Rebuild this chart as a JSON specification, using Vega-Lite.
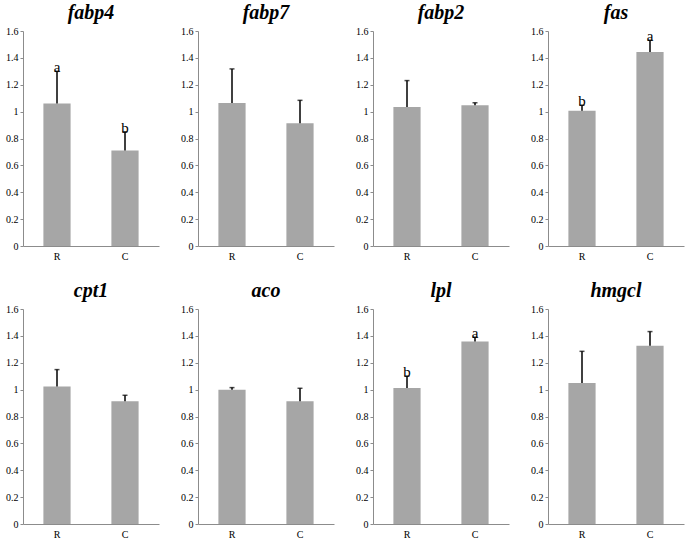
{
  "$schema": "https://vega.github.io/schema/vega-lite/v6.json",
  "padding": {"left": 5, "top": 3, "right": 5, "bottom": 2},
  "data": {
    "values": [
      {"gene": "fabp4", "group": "R", "mean": 1.06, "upper": 1.30, "letter": "a"},
      {"gene": "fabp4", "group": "C", "mean": 0.71, "upper": 0.85, "letter": "b"},
      {"gene": "fabp7", "group": "R", "mean": 1.064, "upper": 1.318, "letter": ""},
      {"gene": "fabp7", "group": "C", "mean": 0.914, "upper": 1.084, "letter": ""},
      {"gene": "fabp2", "group": "R", "mean": 1.034, "upper": 1.231, "letter": ""},
      {"gene": "fabp2", "group": "C", "mean": 1.048, "upper": 1.066, "letter": ""},
      {"gene": "fas", "group": "R", "mean": 1.006, "upper": 1.048, "letter": "b"},
      {"gene": "fas", "group": "C", "mean": 1.444, "upper": 1.531, "letter": "a"},
      {"gene": "cpt1", "group": "R", "mean": 1.023, "upper": 1.149, "letter": ""},
      {"gene": "cpt1", "group": "C", "mean": 0.914, "upper": 0.958, "letter": ""},
      {"gene": "aco", "group": "R", "mean": 1.0, "upper": 1.015, "letter": ""},
      {"gene": "aco", "group": "C", "mean": 0.914, "upper": 1.01, "letter": ""},
      {"gene": "lpl", "group": "R", "mean": 1.012, "upper": 1.101, "letter": "b"},
      {"gene": "lpl", "group": "C", "mean": 1.358, "upper": 1.39, "letter": "a"},
      {"gene": "hmgcl", "group": "R", "mean": 1.05, "upper": 1.285, "letter": ""},
      {"gene": "hmgcl", "group": "C", "mean": 1.326, "upper": 1.432, "letter": ""}
    ]
  },
  "facet": {
    "field": "gene",
    "type": "nominal",
    "sort": ["fabp4", "fabp7", "fabp2", "fas", "cpt1", "aco", "lpl", "hmgcl"],
    "header": {
      "title": null,
      "labelFont": "Times New Roman, DejaVu Serif",
      "labelFontSize": 20,
      "labelFontStyle": "italic",
      "labelFontWeight": "bold",
      "labelColor": "black",
      "labelPadding": 3
    }
  },
  "columns": 4,
  "spacing": {"column": 21, "row": 20},
  "resolve": {"axis": {"x": "independent", "y": "independent"}},
  "spec": {
    "width": 136,
    "height": 215,
    "encoding": {
      "x": {
        "field": "group",
        "type": "nominal",
        "sort": ["R", "C"],
        "scale": {"paddingInner": 0.6, "paddingOuter": 0.3},
        "axis": {
          "title": null,
          "labelAngle": 0,
          "ticks": false,
          "labelPadding": 5,
          "domainColor": "#8c8c8c",
          "labelFont": "Times New Roman, DejaVu Serif",
          "labelFontSize": 10,
          "labelColor": "black"
        }
      },
      "y": {
        "field": "mean",
        "type": "quantitative",
        "scale": {"domain": [0, 1.6]},
        "axis": {
          "title": null,
          "values": [0, 0.2, 0.4, 0.6, 0.8, 1, 1.2, 1.4, 1.6],
          "format": "~g",
          "labelOverlap": false,
          "grid": false,
          "tickSize": 3,
          "tickColor": "#8c8c8c",
          "domainColor": "#8c8c8c",
          "labelPadding": 2,
          "labelFont": "Times New Roman, DejaVu Serif",
          "labelFontSize": 10,
          "labelColor": "black"
        }
      }
    },
    "layer": [
      {
        "mark": {"type": "bar", "color": "#a6a6a6"},
        "encoding": {}
      },
      {
        "mark": {"type": "rule", "color": "black", "strokeWidth": 1.5},
        "encoding": {
          "y2": {"field": "upper"}
        }
      },
      {
        "mark": {"type": "tick", "color": "black", "thickness": 1.5, "size": 5},
        "encoding": {
          "y": {"field": "upper", "type": "quantitative", "axis": {
          "title": null,
          "values": [0, 0.2, 0.4, 0.6, 0.8, 1, 1.2, 1.4, 1.6],
          "format": "~g",
          "labelOverlap": false,
          "grid": false,
          "tickSize": 3,
          "tickColor": "#8c8c8c",
          "domainColor": "#8c8c8c",
          "labelPadding": 2,
          "labelFont": "Times New Roman, DejaVu Serif",
          "labelFontSize": 10,
          "labelColor": "black"
        }}
        }
      },
      {
        "mark": {"type": "text", "font": "Times New Roman, DejaVu Serif", "fontSize": 15, "baseline": "alphabetic", "dy": 1, "fill": "black"},
        "encoding": {
          "y": {"field": "upper", "type": "quantitative", "axis": {
          "title": null,
          "values": [0, 0.2, 0.4, 0.6, 0.8, 1, 1.2, 1.4, 1.6],
          "format": "~g",
          "labelOverlap": false,
          "grid": false,
          "tickSize": 3,
          "tickColor": "#8c8c8c",
          "domainColor": "#8c8c8c",
          "labelPadding": 2,
          "labelFont": "Times New Roman, DejaVu Serif",
          "labelFontSize": 10,
          "labelColor": "black"
        }},
          "text": {"field": "letter"}
        }
      }
    ]
  },
  "config": {
    "view": {"stroke": null}
  }
}
